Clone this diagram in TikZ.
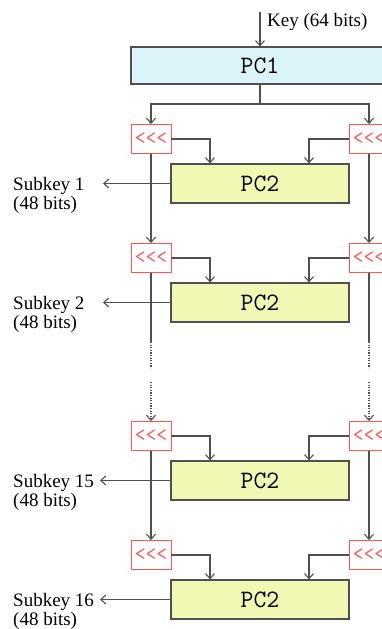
\documentclass[tikz,border=0pt]{standalone}
\usepackage{fontspec}
\setmainfont{Liberation Serif}
\usepackage{tikz}
\usetikzlibrary{arrows.meta}
\definecolor{pc-cyan}{RGB}{218,244,249}
\definecolor{pc-lime}{RGB}{240,248,180}
\definecolor{rot-red}{RGB}{255,85,85}
\definecolor{wire-gray}{RGB}{80,80,80}

\begin{document}
\begin{tikzpicture}[x=1pt, y=-1pt,
            conn/.style={draw=wire-gray, line width=1.1pt,
                         -{Straight Barb[length=5pt,width=9pt]}},
            line/.style={draw=wire-gray, line width=1.1pt},
            dots/.style={dash pattern=on 1.2pt off 1.4pt},
            pcone/.style={draw=wire-gray, line width=1.2pt, fill=pc-cyan,
                        minimum width=258pt, minimum height=37pt, inner sep=0pt,
                        font=\fontsize{25}{25}\selectfont\ttfamily},
            pctwo/.style={draw=wire-gray, line width=1.2pt, fill=pc-lime,
                        minimum width=178pt, minimum height=39pt, inner sep=0pt,
                        font=\fontsize{25}{25}\selectfont\ttfamily},
            rot/.style={draw=rot-red, line width=0.9pt, fill=white,
                        text=rot-red, minimum width=40pt, minimum height=29pt,
                        inner sep=0pt, font=\fontsize{21}{21}\selectfont\ttfamily},
            sublbl/.style={align=left, inner sep=0pt, anchor=base west,
                        font=\fontsize{19}{19}\selectfont}]
          \useasboundingbox (0,0) rectangle (382,629);

          % key and PC1
          \coordinate (keyin) at (260,12);
          \node[pcone] (pc1) at (260,65.5) {PC1};
          \node[inner sep=0pt, anchor=base west,
                font=\fontsize{19}{19}\selectfont] (key) at (267,27) {Key (64 bits)};
          \draw[conn] (keyin) -- (pc1.north);
          \coordinate (split) at (260,104);

          % round 1
          \node[rot] (rl1) at (151,139) {<<<};
          \node[rot] (rr1) at (369,139) {<<<};
          \node[pctwo] (pk1) at (260,183.5) {PC2};
          \coordinate (out1) at (103,183.5);
          \node[sublbl] (sk1) at (13,209.5) {Subkey 1\\(48 bits)};

          % round 2
          \node[rot] (rl2) at (151,258) {<<<};
          \node[rot] (rr2) at (369,258) {<<<};
          \node[pctwo] (pk2) at (260,302.5) {PC2};
          \coordinate (out2) at (103,302.5);
          \node[sublbl] (sk2) at (13,328.5) {Subkey 2\\(48 bits)};

          % round 15
          \node[rot] (rl3) at (151,436) {<<<};
          \node[rot] (rr3) at (369,436) {<<<};
          \node[pctwo] (pk3) at (260,480.5) {PC2};
          \coordinate (out3) at (100,480.5);
          \node[sublbl] (sk3) at (13,506.5) {Subkey 15\\(48 bits)};

          % round 16
          \node[rot] (rl4) at (151,555) {<<<};
          \node[rot] (rr4) at (369,555) {<<<};
          \node[pctwo] (pk4) at (260,599.5) {PC2};
          \coordinate (out4) at (100,599.5);
          \node[sublbl] (sk4) at (13,625.5) {Subkey 16\\(48 bits)};

          % gap in the middle
          \coordinate (gal) at (151,342);
          \coordinate (gbl) at (151,368);
          \coordinate (gcl) at (151,382);
          \coordinate (gar) at (369,342);
          \coordinate (gbr) at (369,368);
          \coordinate (gcr) at (369,382);

          % wires
          \draw[line] (pc1.south) -- (split);
          \draw[conn] (split) -| (rl1.north);
          \draw[conn] (split) -| (rr1.north);

          \draw[conn] (rl1.south) -- (rl2.north);
          \draw[conn] (rr1.south) -- (rr2.north);
          \draw[line] (rl2.south) -- (gal);
          \draw[line] (rr2.south) -- (gar);
          \draw[line, dots] (gal) -- (gbl);
          \draw[line, dots] (gar) -- (gbr);
          \draw[conn, dots] (gcl) -- (rl3.north);
          \draw[conn, dots] (gcr) -- (rr3.north);
          \draw[conn] (rl3.south) -- (rl4.north);
          \draw[conn] (rr3.south) -- (rr4.north);

          \draw[conn] (rl1.east) -| ([xshift=-50pt]pk1.north);
          \draw[conn] (rr1.west) -| ([xshift=49pt]pk1.north);
          \draw[conn] (rl2.east) -| ([xshift=-50pt]pk2.north);
          \draw[conn] (rr2.west) -| ([xshift=49pt]pk2.north);
          \draw[conn] (rl3.east) -| ([xshift=-50pt]pk3.north);
          \draw[conn] (rr3.west) -| ([xshift=49pt]pk3.north);
          \draw[conn] (rl4.east) -| ([xshift=-50pt]pk4.north);
          \draw[conn] (rr4.west) -| ([xshift=49pt]pk4.north);

          \draw[conn] (pk1.west) -- (out1);
          \draw[conn] (pk2.west) -- (out2);
          \draw[conn] (pk3.west) -- (out3);
          \draw[conn] (pk4.west) -- (out4);
        \end{tikzpicture}
\end{document}
